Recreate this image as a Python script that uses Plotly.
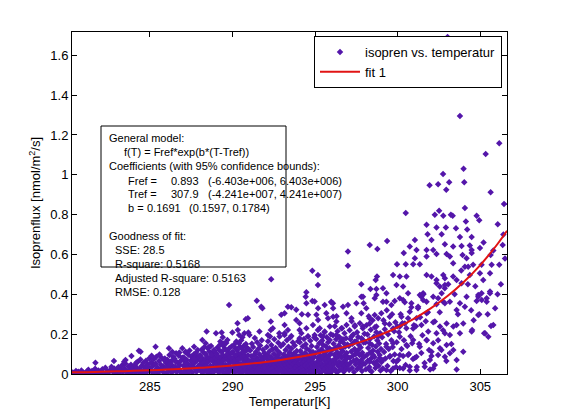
import plotly.graph_objects as go

# === DATA: dense band near the bottom, one line per 1-K bin ===
band_temp = [
    280.33, 280.41, 280.52, 280.58, 280.66, 280.74, 280.85, 280.93,
    281.05, 281.18, 281.27, 281.36, 281.49, 281.57, 281.68, 281.76, 281.88, 281.95,
    282.03, 282.12, 282.21, 282.30, 282.41, 282.48, 282.59, 282.67, 282.75, 282.83, 282.90, 282.97,
    283.02, 283.09, 283.15, 283.24, 283.31, 283.38, 283.45, 283.52, 283.58, 283.66, 283.72, 283.79, 283.85, 283.91, 283.96, 283.44,
    284.04, 284.09, 284.14, 284.21, 284.27, 284.33, 284.38, 284.42, 284.49, 284.55, 284.60, 284.66, 284.71, 284.76, 284.82, 284.87, 284.93, 284.97, 284.18, 284.51, 284.69, 284.84,
    285.02, 285.07, 285.13, 285.18, 285.23, 285.29, 285.34, 285.39, 285.45, 285.50, 285.55, 285.61, 285.66, 285.71, 285.77, 285.82, 285.87, 285.93, 285.97, 285.10, 285.42, 285.58, 285.74, 285.90, 285.26,
    286.01, 286.05, 286.09, 286.14, 286.18, 286.23, 286.27, 286.31, 286.36, 286.40, 286.45, 286.49, 286.53, 286.58, 286.62, 286.66, 286.71, 286.75, 286.80, 286.84, 286.88, 286.93, 286.97, 286.12, 286.34, 286.56, 286.78, 286.21, 286.43, 286.69,
    287.02, 287.05, 287.08, 287.12, 287.15, 287.19, 287.22, 287.26, 287.29, 287.33, 287.36, 287.40, 287.43, 287.47, 287.50, 287.54, 287.57, 287.61, 287.64, 287.68, 287.71, 287.75, 287.78, 287.82, 287.85, 287.89, 287.92, 287.96, 287.99, 287.17, 287.38, 287.59, 287.80, 287.24, 287.66,
    288.01, 288.04, 288.06, 288.09, 288.12, 288.14, 288.17, 288.19, 288.22, 288.25, 288.27, 288.30, 288.33, 288.35, 288.38, 288.40, 288.43, 288.46, 288.48, 288.51,
    288.54, 288.56, 288.59, 288.62, 288.64, 288.67, 288.70, 288.72, 288.75, 288.78, 288.80, 288.83, 288.86, 288.88, 288.91, 288.94, 288.96, 288.99, 288.45, 288.73,
    289.01, 289.03, 289.06, 289.08, 289.10, 289.13, 289.15, 289.17, 289.20, 289.22, 289.24, 289.27, 289.29, 289.31, 289.34, 289.36, 289.38, 289.41, 289.43, 289.45,
    289.48, 289.50, 289.52, 289.55, 289.57, 289.59, 289.62, 289.64, 289.66, 289.69, 289.71, 289.73, 289.76, 289.78, 289.80, 289.83, 289.85, 289.87, 289.90, 289.92,
    289.94, 289.97, 289.99, 289.26, 289.61,
    290.01, 290.03, 290.05, 290.07, 290.09, 290.11, 290.13, 290.15, 290.17, 290.19, 290.21, 290.23, 290.25, 290.27, 290.29, 290.31, 290.33, 290.35, 290.37, 290.39, 290.41, 290.43, 290.45, 290.47, 290.49,
    290.51, 290.53, 290.55, 290.57, 290.59, 290.61, 290.63, 290.65, 290.67, 290.69, 290.71, 290.73, 290.75, 290.77, 290.79, 290.81, 290.83, 290.85, 290.87, 290.89, 290.91, 290.93, 290.95, 290.97, 290.99,
    291.01, 291.03, 291.05, 291.07, 291.09, 291.11, 291.13, 291.15, 291.17, 291.19, 291.21, 291.23, 291.25, 291.27, 291.29, 291.31, 291.33, 291.35, 291.37, 291.39, 291.41, 291.43, 291.45, 291.47, 291.49,
    291.51, 291.53, 291.55, 291.57, 291.59, 291.61, 291.63, 291.65, 291.67, 291.69, 291.71, 291.73, 291.75, 291.77, 291.79, 291.81, 291.83, 291.85, 291.87, 291.89, 291.91, 291.93, 291.95, 291.97, 291.99,
    292.01, 292.03, 292.05, 292.07, 292.09, 292.11, 292.13, 292.15, 292.17, 292.19, 292.21, 292.23, 292.25, 292.27, 292.29, 292.31, 292.33, 292.35, 292.37, 292.39, 292.41, 292.43, 292.45, 292.47, 292.49,
    292.51, 292.53, 292.55, 292.57, 292.59, 292.61, 292.63, 292.65, 292.67, 292.69, 292.71, 292.73, 292.75, 292.77, 292.79, 292.81, 292.83, 292.85, 292.87, 292.89, 292.91, 292.93, 292.95, 292.97, 292.99,
    293.01, 293.03, 293.05, 293.07, 293.09, 293.11, 293.13, 293.15, 293.17, 293.19, 293.21, 293.23, 293.25, 293.27, 293.29, 293.31, 293.33, 293.35, 293.37, 293.39, 293.41, 293.43, 293.45, 293.47, 293.49,
    293.51, 293.53, 293.55, 293.57, 293.59, 293.61, 293.63, 293.65, 293.67, 293.69, 293.71, 293.73, 293.75, 293.77, 293.79, 293.81, 293.83, 293.85, 293.87, 293.89, 293.91, 293.93, 293.95, 293.97, 293.99,
    294.01, 294.03, 294.05, 294.07, 294.09, 294.11, 294.13, 294.15, 294.17, 294.19, 294.21, 294.23, 294.25, 294.27, 294.29, 294.31, 294.33, 294.35, 294.37, 294.39, 294.41, 294.43, 294.45, 294.47, 294.49,
    294.51, 294.53, 294.55, 294.57, 294.59, 294.61, 294.63, 294.65, 294.67, 294.69, 294.71, 294.73, 294.75, 294.77, 294.79, 294.81, 294.83, 294.85, 294.87, 294.89, 294.91, 294.93, 294.95, 294.97, 294.99,
    295.01, 295.03, 295.05, 295.07, 295.09, 295.11, 295.13, 295.15, 295.17, 295.19, 295.21, 295.23, 295.25, 295.27, 295.29, 295.31, 295.33, 295.35, 295.37, 295.39, 295.41, 295.43, 295.45, 295.47, 295.49,
    295.51, 295.53, 295.55, 295.57, 295.59, 295.61, 295.63, 295.65, 295.67, 295.69, 295.71, 295.73, 295.75, 295.77, 295.79, 295.81, 295.83, 295.85, 295.87, 295.89, 295.91, 295.93, 295.95, 295.97, 295.99,
    296.01, 296.03, 296.05, 296.08, 296.10, 296.12, 296.14, 296.16, 296.19, 296.21, 296.23, 296.25, 296.27, 296.30, 296.32, 296.34, 296.36, 296.38, 296.41, 296.43,
    296.45, 296.47, 296.49, 296.52, 296.54, 296.56, 296.58, 296.60, 296.63, 296.65, 296.67, 296.69, 296.71, 296.74, 296.76, 296.78, 296.80, 296.82, 296.85, 296.87, 296.89, 296.91, 296.93, 296.96, 296.98,
    297.01, 297.04, 297.06, 297.09, 297.11, 297.14, 297.16, 297.19, 297.21, 297.24, 297.26, 297.29, 297.31, 297.34, 297.36, 297.39, 297.41, 297.44, 297.46, 297.49,
    297.51, 297.54, 297.56, 297.59, 297.61, 297.64, 297.66, 297.69, 297.71, 297.74, 297.76, 297.79, 297.81, 297.84, 297.86, 297.89, 297.91, 297.94, 297.96, 297.99,
    298.02, 298.05, 298.08, 298.11, 298.14, 298.17, 298.19, 298.22, 298.25, 298.28, 298.31, 298.34, 298.37, 298.39, 298.42, 298.45, 298.48, 298.51, 298.54, 298.57,
    298.59, 298.62, 298.65, 298.68, 298.71, 298.74, 298.77, 298.79, 298.82, 298.85, 298.88, 298.91, 298.94, 298.96, 298.99,
    299.02, 299.06, 299.10, 299.14, 299.18, 299.22, 299.26, 299.30, 299.34, 299.38, 299.42, 299.46, 299.50, 299.54, 299.58, 299.62, 299.66, 299.70, 299.74, 299.78, 299.82, 299.86, 299.90, 299.94, 299.98,
    300.03, 300.08, 300.13, 300.18, 300.23, 300.28, 300.33, 300.38, 300.43, 300.48, 300.53, 300.58, 300.63, 300.68, 300.73, 300.78, 300.83, 300.88, 300.93, 300.98,
    301.03, 301.10, 301.16, 301.23, 301.30, 301.36, 301.43, 301.50, 301.56, 301.63, 301.70, 301.76, 301.83, 301.90, 301.96,
    302.05, 302.15, 302.25, 302.35, 302.45, 302.55, 302.65, 302.75, 302.85, 302.95,
]
band_flux = [
    0.008, 0.003, 0.015, 0.006, 0.011, 0.002, 0.018, 0.009,
    0.004, 0.012, 0.021, 0.007, 0.015, 0.002, 0.026, 0.010, 0.018, 0.006,
    0.009, 0.024, 0.003, 0.031, 0.014, 0.006, 0.020, 0.036, 0.011, 0.027, 0.004, 0.017,
    0.013, 0.035, 0.005, 0.022, 0.044, 0.010, 0.028, 0.052, 0.017, 0.003, 0.038, 0.024, 0.047, 0.008, 0.030, 0.061,
    0.018, 0.046, 0.007, 0.032, 0.061, 0.012, 0.025, 0.073, 0.040, 0.004, 0.055, 0.020, 0.034, 0.066, 0.010, 0.048, 0.027, 0.079, 0.058, 0.015, 0.003, 0.038,
    0.026, 0.058, 0.009, 0.041, 0.074, 0.016, 0.052, 0.087, 0.033, 0.005, 0.065, 0.022, 0.046, 0.081, 0.012, 0.036, 0.069, 0.003, 0.055, 0.092, 0.019, 0.098, 0.030, 0.078, 0.006,
    0.034, 0.071, 0.012, 0.052, 0.095, 0.024, 0.063, 0.006, 0.043, 0.086, 0.018, 0.077, 0.037, 0.104, 0.009, 0.058, 0.028, 0.091, 0.047, 0.015, 0.068, 0.002, 0.082, 0.039, 0.021, 0.061, 0.108, 0.049, 0.074, 0.030,
    0.041, 0.083, 0.015, 0.061, 0.109, 0.027, 0.072, 0.004, 0.052, 0.097, 0.033, 0.118, 0.019, 0.066, 0.088, 0.045, 0.007, 0.079, 0.036, 0.101, 0.056, 0.023, 0.092, 0.011, 0.068, 0.120, 0.039, 0.084, 0.029, 0.049, 0.013, 0.063, 0.106, 0.031, 0.075,
    0.048, 0.094, 0.016, 0.067, 0.122, 0.031, 0.079, 0.006, 0.055, 0.108, 0.038, 0.135, 0.021, 0.072, 0.099, 0.044, 0.011, 0.087, 0.059, 0.128,
    0.026, 0.064, 0.113, 0.003, 0.081, 0.042, 0.141, 0.018, 0.070, 0.104, 0.035, 0.090, 0.009, 0.058, 0.117, 0.029, 0.076, 0.050, 0.013, 0.097,
    0.055, 0.102, 0.019, 0.074, 0.134, 0.037, 0.088, 0.007, 0.061, 0.118, 0.044, 0.149, 0.025, 0.081, 0.110, 0.050, 0.012, 0.095, 0.066, 0.141,
    0.030, 0.071, 0.126, 0.004, 0.090, 0.047, 0.156, 0.022, 0.078, 0.115, 0.040, 0.099, 0.010, 0.064, 0.129, 0.033, 0.084, 0.057, 0.015, 0.106,
    0.138, 0.027, 0.069, 0.163, 0.121,
    0.061, 0.112, 0.022, 0.083, 0.147, 0.041, 0.097, 0.008, 0.068, 0.129, 0.049, 0.163, 0.028, 0.089, 0.121, 0.055, 0.014, 0.104, 0.073, 0.155, 0.034, 0.078, 0.138, 0.005, 0.099,
    0.052, 0.170, 0.025, 0.086, 0.126, 0.044, 0.109, 0.011, 0.070, 0.142, 0.037, 0.092, 0.063, 0.017, 0.116, 0.151, 0.030, 0.076, 0.133, 0.047, 0.002, 0.094, 0.058, 0.124, 0.020,
    0.012, 0.064, 0.031, 0.118, 0.047, 0.003, 0.089, 0.026, 0.152, 0.058, 0.019, 0.073, 0.135, 0.040, 0.008, 0.097, 0.052, 0.181, 0.023, 0.067, 0.110, 0.035, 0.014, 0.082, 0.160,
    0.045, 0.006, 0.071, 0.127, 0.029, 0.055, 0.099, 0.017, 0.143, 0.038, 0.062, 0.009, 0.086, 0.170, 0.049, 0.021, 0.077, 0.122, 0.033, 0.004, 0.059, 0.105, 0.042, 0.015, 0.091,
    0.027, 0.081, 0.010, 0.136, 0.053, 0.095, 0.018, 0.165, 0.041, 0.069, 0.004, 0.113, 0.036, 0.188, 0.060, 0.022, 0.087, 0.145, 0.048, 0.012, 0.075, 0.125, 0.031, 0.057, 0.007,
    0.102, 0.174, 0.044, 0.016, 0.066, 0.131, 0.038, 0.084, 0.002, 0.055, 0.118, 0.026, 0.093, 0.157, 0.047, 0.013, 0.072, 0.107, 0.034, 0.063, 0.020, 0.140, 0.050, 0.079, 0.009,
    0.015, 0.072, 0.039, 0.150, 0.006, 0.098, 0.058, 0.196, 0.027, 0.084, 0.121, 0.045, 0.011, 0.066, 0.170, 0.033, 0.091, 0.003, 0.054, 0.137, 0.077, 0.021, 0.109, 0.042, 0.183,
    0.062, 0.017, 0.088, 0.128, 0.035, 0.007, 0.070, 0.158, 0.048, 0.024, 0.103, 0.081, 0.013, 0.143, 0.056, 0.030, 0.094, 0.005, 0.067, 0.115, 0.041, 0.019, 0.076, 0.165, 0.051,
    0.022, 0.089, 0.008, 0.160, 0.047, 0.115, 0.031, 0.068, 0.205, 0.014, 0.097, 0.054, 0.138, 0.037, 0.003, 0.079, 0.176, 0.061, 0.025, 0.106, 0.043, 0.149, 0.011, 0.072, 0.127,
    0.034, 0.093, 0.057, 0.190, 0.018, 0.083, 0.040, 0.119, 0.006, 0.065, 0.167, 0.029, 0.100, 0.050, 0.141, 0.016, 0.075, 0.036, 0.111, 0.059, 0.002, 0.086, 0.183, 0.045, 0.027,
    0.030, 0.104, 0.012, 0.176, 0.058, 0.135, 0.041, 0.082, 0.221, 0.019, 0.113, 0.066, 0.155, 0.047, 0.005, 0.093, 0.194, 0.073, 0.033, 0.124, 0.052, 0.168, 0.015, 0.087, 0.146,
    0.038, 0.109, 0.069, 0.210, 0.024, 0.098, 0.049, 0.139, 0.008, 0.078, 0.185, 0.036, 0.118, 0.061, 0.160, 0.021, 0.091, 0.044, 0.129, 0.071, 0.003, 0.101, 0.200, 0.055, 0.027,
    0.038, 0.121, 0.016, 0.195, 0.069, 0.152, 0.049, 0.097, 0.240, 0.024, 0.131, 0.078, 0.174, 0.056, 0.007, 0.109, 0.215, 0.086, 0.040, 0.143,
    0.062, 0.186, 0.019, 0.102, 0.163, 0.046, 0.127, 0.081, 0.230, 0.029, 0.115, 0.058, 0.157, 0.011, 0.092, 0.205, 0.043, 0.137, 0.072, 0.179, 0.026, 0.106, 0.052, 0.148, 0.084,
    0.045, 0.140, 0.020, 0.220, 0.082, 0.175, 0.058, 0.113, 0.265, 0.030, 0.152, 0.092, 0.198, 0.066, 0.010, 0.126, 0.245, 0.101, 0.048, 0.165,
    0.073, 0.210, 0.025, 0.118, 0.186, 0.055, 0.146, 0.095, 0.255, 0.035, 0.133, 0.069, 0.180, 0.015, 0.107, 0.230, 0.051, 0.158, 0.085, 0.202,
    0.052, 0.160, 0.024, 0.245, 0.095, 0.198, 0.067, 0.130, 0.290, 0.035, 0.175, 0.108, 0.222, 0.078, 0.012, 0.145, 0.270, 0.118, 0.057, 0.188,
    0.085, 0.235, 0.030, 0.138, 0.210, 0.064, 0.168, 0.112, 0.280, 0.041, 0.153, 0.080, 0.205, 0.018, 0.125,
    0.060, 0.185, 0.028, 0.270, 0.110, 0.225, 0.078, 0.150, 0.320, 0.040, 0.200, 0.125, 0.250, 0.090, 0.015, 0.170, 0.300, 0.135, 0.065, 0.215, 0.098, 0.260, 0.035, 0.160, 0.240,
    0.070, 0.210, 0.030, 0.300, 0.125, 0.255, 0.090, 0.170, 0.360, 0.045, 0.230, 0.140, 0.280, 0.100, 0.018, 0.190, 0.335, 0.155, 0.075, 0.245,
    0.080, 0.240, 0.035, 0.330, 0.150, 0.285, 0.105, 0.195, 0.400, 0.055, 0.265, 0.170, 0.310, 0.120, 0.022,
    0.090, 0.260, 0.045, 0.350, 0.170, 0.310, 0.120, 0.220, 0.430, 0.065,
]

# === DATA: scattered points above the band, read one by one ===
spread_temp = [
    281.70, 282.82, 283.52, 283.88, 284.33, 284.43, 285.34, 286.15, 286.35, 286.96, 287.16, 287.67,
    288.17, 288.37, 288.43, 288.58, 288.88,
    289.00, 289.34, 289.41, 289.49, 289.69, 289.79, 289.99,
    290.30, 290.32, 290.40, 290.60, 290.72, 290.80, 290.96, 290.93,
    291.03, 291.47, 291.63, 291.74, 291.81,
    292.14, 292.32, 292.32, 292.34, 292.44, 292.83, 292.85, 292.95,
    293.15, 293.35, 293.56, 293.86, 293.86, 293.15, 293.35, 293.15, 293.56,
    294.47, 294.97, 294.06, 294.57, 294.06, 294.47, 294.87, 294.06, 294.57, 294.97, 294.83, 294.47, 294.43, 294.83, 294.20,
    295.17, 295.17, 295.18, 295.58, 295.99, 295.08, 295.18, 295.68, 295.78, 295.28, 295.58, 295.89, 295.48, 295.89, 295.98,
    296.09, 296.69, 296.99, 296.09, 296.29, 296.90, 296.59, 296.90, 296.29, 296.69, 296.99, 296.99, 296.08, 296.30,
    297.50, 297.20, 297.40, 297.20, 297.80, 297.80, 297.90, 297.94, 297.90, 297.39, 297.90, 297.49, 297.70, 297.90, 297.80,
    298.31, 298.77, 298.75, 298.67, 298.35, 298.71, 298.61, 298.71, 298.30, 298.61, 298.30, 298.71, 298.30, 298.81, 298.71, 298.30, 298.51, 298.91, 298.30, 298.10,
    299.36, 299.96, 299.72, 299.11, 299.93, 299.32, 299.82, 299.11, 299.32, 299.62, 299.01, 299.52, 299.22, 299.72, 299.32, 299.72, 299.92, 299.52, 299.11, 299.72, 299.32,
    300.49, 300.73, 300.37, 300.49, 300.13, 300.53, 300.33, 300.63, 300.33, 300.13, 300.83, 300.73, 300.23, 300.13, 300.43, 300.13, 300.53, 300.73, 300.33, 300.63, 300.13, 300.94, 300.94, 300.94,
    301.04, 301.14, 301.04, 301.34, 301.34, 301.54, 301.44, 301.24, 301.44, 301.54, 301.14, 301.75, 301.44, 301.85, 301.34, 301.75, 301.64, 301.14, 301.14, 301.95, 301.75, 301.81, 301.75, 301.75, 301.75, 301.93, 301.75,
    302.51, 302.25, 302.76, 302.35, 302.92, 302.66, 302.05, 302.86, 302.15, 302.35, 302.96, 302.35, 302.05, 302.76, 302.86, 302.35, 302.55, 302.86, 302.76, 302.15,
    302.45, 302.66, 302.86, 302.25, 302.56, 302.96, 302.35, 302.86, 302.15, 302.56, 302.96, 302.05, 302.45, 302.86, 302.15, 302.45, 302.75, 302.94,
    303.02, 303.12, 303.22, 303.33, 303.53, 303.77, 303.36, 303.87, 303.93, 303.16, 303.36, 303.36, 303.57, 303.06, 303.87, 303.16, 303.77,
    303.57, 303.37, 303.57, 303.97, 303.16, 303.77, 303.37, 303.97, 303.16, 303.57, 303.57, 303.77, 303.99, 303.25, 303.65, 303.45, 303.85,
    304.03, 304.07, 304.13, 304.21, 304.48, 304.37, 304.48, 304.48, 304.17, 304.07, 304.27, 304.57, 304.37, 304.17, 304.78,
    304.88, 304.88, 304.07, 304.88, 304.48, 304.78, 304.94, 304.98, 304.98, 304.45, 304.25, 304.70, 304.60, 304.51, 304.94,
    305.33, 305.63, 305.08, 305.69, 305.18, 305.59, 305.08, 305.39, 305.59, 305.09, 305.39, 305.59, 305.29, 305.79, 305.49, 305.63, 305.79, 305.20, 305.45, 305.90, 305.24, 305.65,
    306.15, 306.44, 306.06, 306.36, 306.15, 306.25, 306.05, 306.50, 306.40,
]
spread_flux = [
    0.057, 0.065, 0.070, 0.090, 0.117, 0.112, 0.137, 0.129, 0.112, 0.129, 0.112, 0.137,
    0.171, 0.154, 0.213, 0.137, 0.121,
    0.204, 0.208, 0.185, 0.154, 0.171, 0.347, 0.208,
    0.255, 0.221, 0.196, 0.184, 0.204, 0.275, 0.208, 0.280,
    0.196, 0.368, 0.213, 0.338, 0.330,
    0.196, 0.263, 0.221, 0.476, 0.230, 0.205, 0.188, 0.297,
    0.305, 0.338, 0.335, 0.322, 0.271, 0.246, 0.221, 0.204, 0.191,
    0.355, 0.364, 0.255, 0.297, 0.221, 0.230, 0.246, 0.179, 0.188, 0.196, 0.518, 0.411, 0.388, 0.367, 0.300,
    0.497, 0.447, 0.330, 0.347, 0.359, 0.297, 0.271, 0.305, 0.280, 0.230, 0.213, 0.238, 0.188, 0.171, 0.363,
    0.330, 0.338, 0.347, 0.288, 0.263, 0.305, 0.230, 0.246, 0.196, 0.174, 0.615, 0.543, 0.355, 0.290,
    0.355, 0.280, 0.238, 0.188, 0.388, 0.305, 0.388, 0.355, 0.238, 0.162, 0.171, 0.104, 0.037, 0.087, 0.451,
    0.648, 0.628, 0.489, 0.472, 0.427, 0.427, 0.380, 0.397, 0.280, 0.296, 0.254, 0.238, 0.154, 0.187, 0.045, 0.020, 0.095, 0.095, 0.062, 0.330,
    0.668, 0.551, 0.497, 0.431, 0.447, 0.363, 0.367, 0.363, 0.405, 0.347, 0.305, 0.288, 0.254, 0.229, 0.137, 0.154, 0.062, 0.087, 0.070, 0.028, 0.020,
    0.808, 0.640, 0.607, 0.551, 0.489, 0.489, 0.439, 0.406, 0.372, 0.380, 0.355, 0.313, 0.288, 0.238, 0.254, 0.187, 0.146, 0.037, 0.028, 0.095, 0.095, 0.551, 0.229, 0.171,
    0.673, 0.623, 0.581, 0.551, 0.397, 0.406, 0.388, 0.338, 0.397, 0.372, 0.280, 0.305, 0.246, 0.213, 0.137, 0.171, 0.037, 0.020, 0.087, 0.070, 0.749, 0.702, 0.623, 0.590, 0.497, 0.948, 0.363,
    0.819, 0.799, 0.794, 0.735, 0.735, 0.702, 0.673, 0.652, 0.623, 0.602, 0.602, 0.472, 0.489, 0.497, 0.481, 0.456, 0.439, 0.447, 0.363, 0.388,
    0.380, 0.405, 0.355, 0.263, 0.238, 0.254, 0.204, 0.204, 0.154, 0.129, 0.146, 0.112, 0.095, 0.087, 0.028, 0.953, 1.004, 0.925,
    1.692, 0.963, 0.799, 0.795, 0.732, 0.688, 0.640, 0.643, 0.598, 0.590, 0.556, 0.489, 0.472, 0.451, 0.456, 0.363, 0.355,
    0.321, 0.238, 0.246, 0.254, 0.196, 0.204, 0.120, 0.112, 0.104, 0.070, 0.023, 1.295, 1.030, 0.150, 0.300, 0.400, 0.520,
    0.963, 0.833, 0.765, 0.725, 0.688, 0.645, 0.623, 0.607, 0.581, 0.539, 0.539, 0.548, 0.497, 0.388, 0.367,
    0.397, 0.388, 0.338, 0.296, 0.213, 0.795, 0.772, 0.632, 0.506, 0.320, 0.450, 0.440, 0.270, 0.221, 0.300,
    1.104, 0.913, 0.548, 0.548, 0.472, 0.506, 0.406, 0.380, 0.414, 0.372, 0.363, 0.405, 0.204, 0.246, 0.187, 0.598, 0.620, 0.660, 0.300, 0.330, 0.205, 0.241,
    1.159, 0.854, 0.752, 0.648, 0.548, 0.450, 0.400, 0.580, 0.700,
]

# === DATA: fitted curve "fit 1" ===
fit_temp = [280.28, 281, 282, 283, 284, 285, 286, 287, 288, 289, 290, 291, 292, 293,
            294, 295, 296, 297, 298, 299, 300, 301, 302, 303, 304, 305, 306, 306.62]
fit_flux = [0.0084, 0.0094, 0.0112, 0.0132, 0.0157, 0.0186, 0.0220, 0.0261, 0.0309, 0.0366,
            0.0433, 0.0513, 0.0607, 0.0719, 0.0851, 0.1008, 0.1194, 0.1414, 0.1674, 0.1983,
            0.2348, 0.2781, 0.3293, 0.3900, 0.4618, 0.5469, 0.6476, 0.719]

x_ticks = [285, 290, 295, 300, 305]
y_ticks = [0, 0.2, 0.4, 0.6, 0.8, 1, 1.2, 1.4, 1.6]

assert len(band_temp) == len(band_flux)
assert len(spread_temp) == len(spread_flux)

# === ПОЛЕ ГРАФИКА (пиксели окна) ===
# страница имеет отступ body 8px, поэтому поля сдвинуты на 8px
W, H = 561, 420
PAGE = 8
LEFT, TOP, PW, PH = 72, 32, 435, 342          # область осей в окне
ML, MT = LEFT - PAGE, TOP - PAGE
MR, MB = W - ML - PW, H - MT - PH
FONT = 'Liberation Sans, Arial, sans-serif'


def px_x(px):
    return (px - LEFT) / PW


def px_y(py):
    return (TOP + PH - py) / PH


fig = go.Figure()
fig.add_trace(go.Scatter(
    x=band_temp + spread_temp, y=band_flux + spread_flux,
    mode='markers', name='isopren vs. temperatur',
    marker=dict(symbol='diamond', size=5, color='rgb(84,22,170)', line=dict(width=0)),
))
fig.add_trace(go.Scatter(
    x=fit_temp, y=fit_flux, mode='lines', name='fit 1',
    line=dict(color='rgb(225,20,20)', width=2, shape='spline'),
))

# === ТЕКСТОВЫЙ БЛОК С РЕЗУЛЬТАТАМИ ФИТА ===
fig.add_shape(type='rect', xref='paper', yref='paper',
              x0=px_x(101), x1=px_x(286), y0=px_y(267), y1=px_y(126),
              line=dict(color='black', width=1), fillcolor='rgba(0,0,0,0)', layer='above')

# (x, y, текст, привязка)
fit_text = [
    (107, 138, 'General model:', 'left'),
    (122, 152, 'f(T) = Fref*exp(b*(T-Tref))', 'left'),
    (107, 166, 'Coefficients (with 95% confidence bounds):', 'left'),
    (126, 181, 'Fref =', 'left'), (201, 181, '0.893', 'right'),
    (206, 181, '(-6.403e+006, 6.403e+006)', 'left'),
    (126, 194, 'Tref =', 'left'), (201, 194, '307.9', 'right'),
    (206, 194, '(-4.241e+007, 4.241e+007)', 'left'),
    (126, 208, 'b =', 'left'), (183, 208, '0.1691', 'right'),
    (187, 208, '(0.1597, 0.1784)', 'left'),
    (107, 236, 'Goodness of fit:', 'left'),
    (113, 250, 'SSE: 28.5', 'left'),
    (113, 264, 'R-square: 0.5168', 'left'),
    (113, 278, 'Adjusted R-square: 0.5163', 'left'),
    (113, 292, 'RMSE: 0.128', 'left'),
]
for px, py, txt, anchor in fit_text:
    fig.add_annotation(x=px_x(px), y=px_y(py), xref='paper', yref='paper',
                       text=txt, showarrow=False, xanchor=anchor, yanchor='middle',
                       font=dict(family=FONT, size=11, color='black'))

axis_style = dict(showline=True, linecolor='black', linewidth=1, mirror='ticks',
                  ticks='inside', ticklen=5, tickcolor='black', showgrid=False,
                  zeroline=False, tickfont=dict(family=FONT, size=13, color='black'))

fig.update_layout(
    width=W, height=H,
    margin=dict(l=ML, r=MR, t=MT, b=MB),
    paper_bgcolor='white', plot_bgcolor='white',
    font=dict(family=FONT, color='black'),
    xaxis=dict(range=[280.28, 306.62], tickvals=x_ticks, automargin=False,
               title=dict(text='Temperatur[K]', font=dict(size=13), standoff=4),
               **axis_style),
    yaxis=dict(range=[0, 1.717], tickvals=y_ticks, automargin=False,
               title=dict(text='Isoprenflux [nmol/m<sup>2</sup>/s]', font=dict(size=13), standoff=6),
               **axis_style),
    legend=dict(x=px_x(502), y=px_y(36), xanchor='right', yanchor='top',
                bgcolor='white', bordercolor='black', borderwidth=1,
                font=dict(family=FONT, size=13, color='black'),
                itemwidth=40, tracegroupgap=0),
    showlegend=True,
)

fig.write_html('out.html')
